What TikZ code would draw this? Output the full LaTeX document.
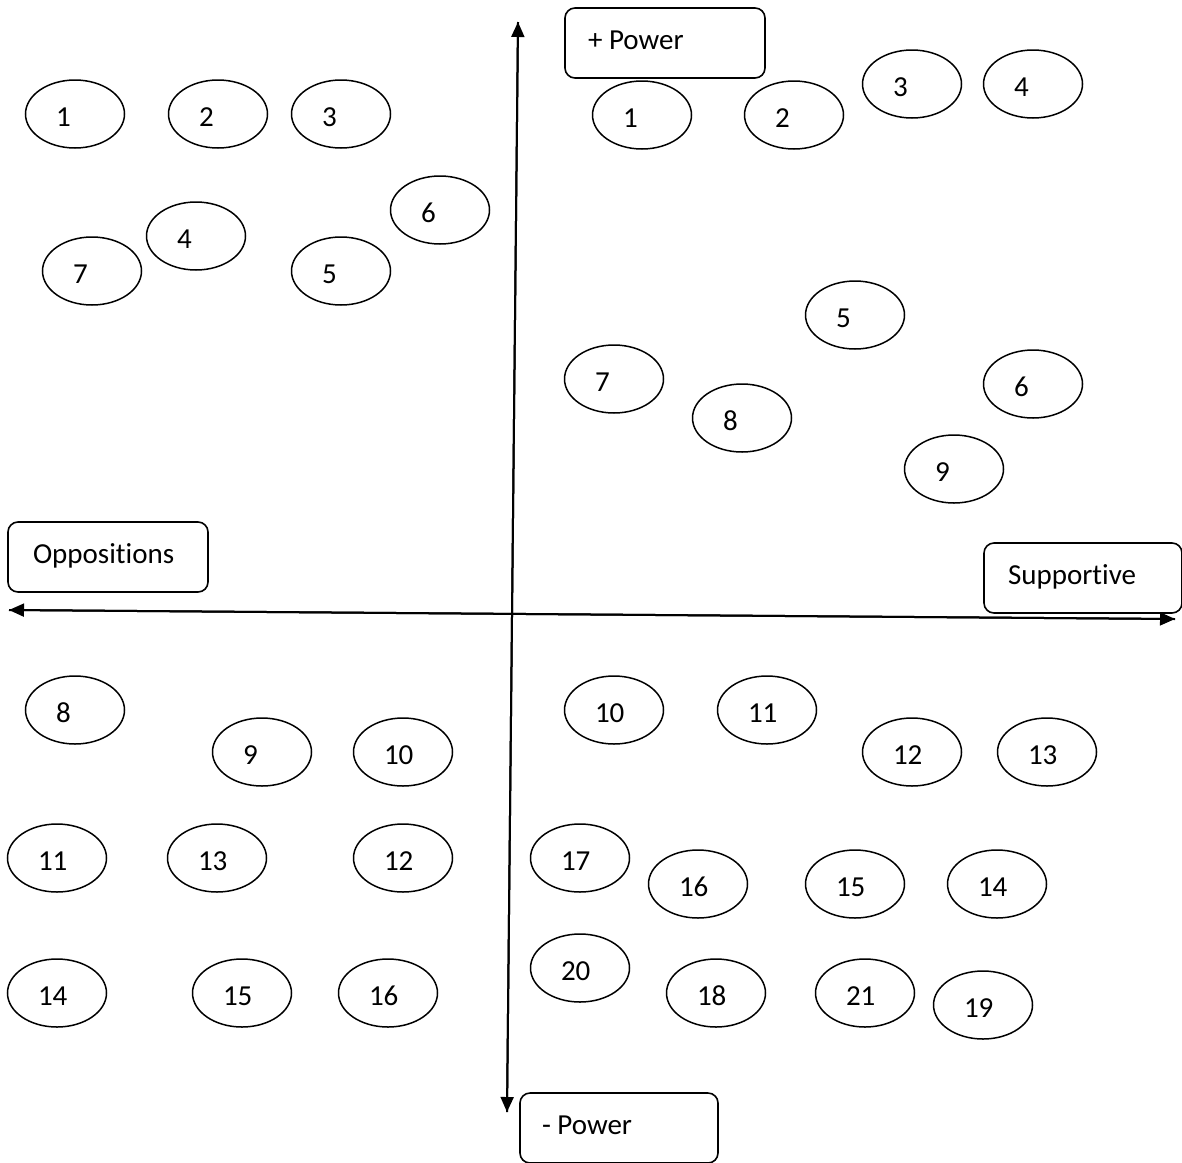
\documentclass[tikz,border=0pt]{standalone}
\usepackage{fontspec}
\setmainfont{Carlito}[Ligatures=NoCommon]
\usetikzlibrary{shapes.geometric,arrows.meta}
\newcommand\lbl[1]{\makebox[38pt][l]{#1}}
\tikzset{
  ell/.style={draw, ellipse, line width=1.5pt, minimum width=99pt, minimum height=68pt,
    inner sep=0pt, text height=24pt, text depth=0pt, font=\fontsize{29}{34}\selectfont},
  lab/.style={draw, fill=white, rounded corners=10pt, line width=1.6pt, inner sep=0pt,
    minimum height=70pt, text height=18pt, text depth=6pt, font=\fontsize{29}{34}\selectfont},
  axis/.style={line width=2pt, -{Triangle[length=15pt,width=13pt]}}
}
\begin{document}
\begin{tikzpicture}[x=1pt,y=-1pt]
\useasboundingbox (0,0) rectangle (1182,1162);
% axes
\coordinate (top) at (518,22);
\coordinate (bot) at (507,1112);
\coordinate (lft) at (9,610);
\coordinate (rgt) at (1175,619);
\draw[axis] (bot) -- (top);
\draw[axis] (top) -- (bot);
\draw[axis] (rgt) -- (lft);
\draw[axis] (lft) -- (rgt);
% labels
\node[lab, minimum width=200pt] (pp) at (665,43) {\makebox[154pt][l]{+ Power}};
\node[lab, minimum width=200pt] (opp) at (108,557) {\makebox[150pt][l]{Oppositions}};
\node[lab, minimum width=198pt] (sup) at (1083,578) {\makebox[150pt][l]{Supportive}};
\node[lab, minimum width=198pt] (mp) at (619,1128) {\makebox[154pt][l]{- Power}};
% top left
\node[ell] (a1) at (75,114) {\lbl{1}};
\node[ell] (a2) at (218,114) {\lbl{2}};
\node[ell] (a3) at (341,114) {\lbl{3}};
\node[ell] (a6) at (440,210) {\lbl{6}};
\node[ell] (a4) at (196,236) {\lbl{4}};
\node[ell] (a7) at (92,271) {\lbl{7}};
\node[ell] (a5) at (341,271) {\lbl{5}};
% top right
\node[ell] (b1) at (642,115) {\lbl{1}};
\node[ell] (b2) at (794,115) {\lbl{2}};
\node[ell] (b3) at (912,84) {\lbl{3}};
\node[ell] (b4) at (1033,84) {\lbl{4}};
\node[ell] (b5) at (855,315) {\lbl{5}};
\node[ell] (b7) at (614,379) {\lbl{7}};
\node[ell] (b6) at (1033,384) {\lbl{6}};
\node[ell] (b8) at (742,418) {\lbl{8}};
\node[ell] (b9) at (954,469) {\lbl{9}};
% bottom left
\node[ell] (c8) at (75,710) {\lbl{8}};
\node[ell] (c9) at (262,752) {\lbl{9}};
\node[ell] (c10) at (403,752) {\lbl{10}};
\node[ell] (c11) at (57,858) {\lbl{11}};
\node[ell] (c13) at (217,858) {\lbl{13}};
\node[ell] (c12) at (403,858) {\lbl{12}};
\node[ell] (c14) at (57,993) {\lbl{14}};
\node[ell] (c15) at (242,993) {\lbl{15}};
\node[ell] (c16) at (388,993) {\lbl{16}};
% bottom right
\node[ell] (d10) at (614,710) {\lbl{10}};
\node[ell] (d11) at (767,710) {\lbl{11}};
\node[ell] (d12) at (912,752) {\lbl{12}};
\node[ell] (d13) at (1047,752) {\lbl{13}};
\node[ell] (d17) at (580,858) {\lbl{17}};
\node[ell] (d16) at (698,884) {\lbl{16}};
\node[ell] (d15) at (855,884) {\lbl{15}};
\node[ell] (d14) at (997,884) {\lbl{14}};
\node[ell] (d20) at (580,968) {\lbl{20}};
\node[ell] (d18) at (716,993) {\lbl{18}};
\node[ell] (d21) at (865,993) {\lbl{21}};
\node[ell] (d19) at (983,1005) {\lbl{19}};
\end{tikzpicture}
\end{document}
